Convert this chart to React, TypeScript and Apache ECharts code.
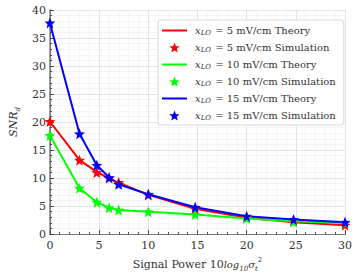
import React, { useEffect, useRef } from "react";
import * as echarts from "echarts";

const xVals = [0, 3.01, 4.77, 6.02, 6.99, 10, 14.77, 20, 24.77, 30];
const red5Theory = [20.1, 13.2, 11.1, 9.9, 9.2, 7.0, 4.5, 2.9, 2.1, 1.6];
const red5Sim = [20.1, 13.2, 11.0, 10.0, 9.2, 7.0, 4.5, 3.0, 2.2, 1.6];
const green10Theory = [17.6, 8.2, 5.7, 4.7, 4.3, 4.0, 3.5, 2.8, 2.3, 2.0];
const green10Sim = [17.6, 8.2, 5.7, 4.7, 4.3, 4.0, 3.5, 2.8, 2.2, 2.0];
const blue15Theory = [37.7, 17.9, 12.3, 10.1, 8.9, 7.1, 4.8, 3.2, 2.6, 2.1];
const blue15Sim = [37.7, 17.9, 12.3, 10.1, 8.9, 7.1, 4.8, 3.2, 2.6, 2.1];

const seriesNames = ["5|Theory", "5|Simulation", "10|Theory", "10|Simulation", "15|Theory", "15|Simulation"];

const STAR = "path://M0,-10 L2.6,-3.4 L9.51,-3.09 L4.1,1.3 L5.88,8.09 L0,4.3 L-5.88,8.09 L-4.1,1.3 L-9.51,-3.09 L-2.6,-3.4 Z";
const LINE_ICON = "path://M0,4 L25,4 L25,6 L0,6 Z";
const FONT = "DejaVu Serif";
const TXT = "#333";

function pairs(ys: number[]) {
  return xVals.map((x, i) => [x, ys[i]]);
}

export default function App() {
  const ref = useRef<HTMLDivElement>(null);
  useEffect(() => {
    if (!ref.current) return;
    const chart = echarts.init(ref.current, undefined, { renderer: "svg" });
    const lineS = (name: string, color: string, ys: number[]) => ({
      name,
      type: "line",
      data: pairs(ys),
      symbol: "none",
      showSymbol: false,
      lineStyle: { color, width: 2 },
      itemStyle: { color },
      z: 2,
    });
    const simS = (name: string, color: string, ys: number[]) => ({
      name,
      type: "scatter",
      data: pairs(ys),
      symbol: STAR,
      symbolSize: 11,
      itemStyle: { color, opacity: 1 },
      z: 3,
    });
    const axisLabel = { fontFamily: FONT, fontSize: 11, color: TXT };
    chart.setOption({
      animation: false,
      textStyle: { fontFamily: FONT },
      grid: { left: 35, right: 12, top: 10, bottom: 37 },
      legend: {
        orient: "vertical",
        left: 158,
        top: 20,
        itemWidth: 25,
        itemHeight: 10,
        itemGap: 4,
        padding: [4, 8, 3, 4],
        backgroundColor: "#fff",
        borderColor: "#d8d8d8",
        borderWidth: 1,
        borderRadius: 3,
        data: seriesNames.map((n, i) => (i % 2 === 0 ? { name: n, icon: LINE_ICON } : { name: n })),
        formatter: (name: string) => {
          const [v, kind] = name.split("|");
          return `{i|x}{s|LO}{n| = ${v} mV/cm ${kind}}`;
        },
        textStyle: {
          fontFamily: FONT,
          fontSize: 10,
          color: TXT,
          lineHeight: 13,
          rich: {
            i: { fontFamily: FONT, fontStyle: "italic", fontSize: 10, color: TXT, lineHeight: 13, padding: [0, 0, 0, 3] },
            s: { fontFamily: FONT, fontStyle: "italic", fontSize: 7, color: TXT, lineHeight: 13, padding: [4, 1, 0, 0] },
            n: { fontFamily: FONT, fontSize: 10, color: TXT, lineHeight: 13 },
          },
        },
      },
      xAxis: [
        {
          type: "value",
          min: 0,
          max: 30,
          interval: 5,
          name: "{a|Signal Power 10}{i|log}{s|10}{i|σ}{s|t}{p|2}",
          nameLocation: "middle",
          nameGap: 20,
          nameTextStyle: {
            fontFamily: FONT,
            fontSize: 11,
            color: TXT,
            rich: {
              a: { fontFamily: FONT, fontSize: 11, color: TXT, lineHeight: 16, verticalAlign: "middle" },
              i: { fontFamily: FONT, fontStyle: "italic", fontSize: 10, color: TXT, lineHeight: 16, verticalAlign: "middle" },
              s: { fontFamily: FONT, fontStyle: "italic", fontSize: 7, color: TXT, lineHeight: 16, verticalAlign: "bottom" },
              p: { fontFamily: FONT, fontSize: 7, color: TXT, lineHeight: 16, verticalAlign: "top" },
            },
          },
          axisLine: { show: true, lineStyle: { color: "#444", width: 1 } },
          axisTick: { show: true, inside: true, length: 4, lineStyle: { color: "#444" } },
          minorTick: { show: true, splitNumber: 5, length: 2, lineStyle: { color: "#444" } },
          axisLabel: { ...axisLabel, margin: 6 },
          splitLine: { show: true, lineStyle: { color: "#dcdcdc", width: 0.8 } },
          minorSplitLine: { show: true, lineStyle: { color: "#efefef", width: 0.6 } },
        },
        {
          type: "value",
          position: "top",
          min: 0,
          max: 30,
          interval: 5,
          axisLine: { show: true, lineStyle: { color: "#777", width: 1 } },
          axisTick: { show: false },
          axisLabel: { show: false },
          splitLine: { show: false },
        },
      ],
      yAxis: [
        {
          type: "value",
          min: 0,
          max: 40,
          interval: 5,
          name: "{i|SNR}{s|d}",
          nameLocation: "middle",
          nameRotate: 90,
          nameGap: 20,
          nameTextStyle: {
            fontFamily: FONT,
            fontSize: 11,
            color: TXT,
            rich: {
              i: { fontFamily: FONT, fontStyle: "italic", fontSize: 11, color: TXT, lineHeight: 15, verticalAlign: "middle" },
              s: { fontFamily: FONT, fontStyle: "italic", fontSize: 7, color: TXT, lineHeight: 15, verticalAlign: "bottom" },
            },
          },
          axisLine: { show: true, lineStyle: { color: "#444", width: 1 } },
          axisTick: { show: true, inside: true, length: 4, lineStyle: { color: "#444" } },
          minorTick: { show: true, splitNumber: 5, length: 2, lineStyle: { color: "#444" } },
          axisLabel: { ...axisLabel, margin: 4 },
          splitLine: { show: true, lineStyle: { color: "#dcdcdc", width: 0.8 } },
          minorSplitLine: { show: true, lineStyle: { color: "#efefef", width: 0.6 } },
        },
        {
          type: "value",
          position: "right",
          min: 0,
          max: 40,
          interval: 5,
          axisLine: { show: true, lineStyle: { color: "#888", width: 1.5 } },
          axisTick: { show: false },
          axisLabel: { show: false },
          splitLine: { show: false },
        },
      ],
      series: [
        lineS(seriesNames[0], "#ff0000", red5Theory),
        simS(seriesNames[1], "#ff0000", red5Sim),
        lineS(seriesNames[2], "#00ff00", green10Theory),
        simS(seriesNames[3], "#00ff00", green10Sim),
        lineS(seriesNames[4], "#0000ff", blue15Theory),
        simS(seriesNames[5], "#0000ff", blue15Sim),
      ],
    });
    return () => chart.dispose();
  }, []);
  return <div ref={ref} style={{ width: 357, height: 277, position: "absolute", left: 0, top: 0 }} />;
}
